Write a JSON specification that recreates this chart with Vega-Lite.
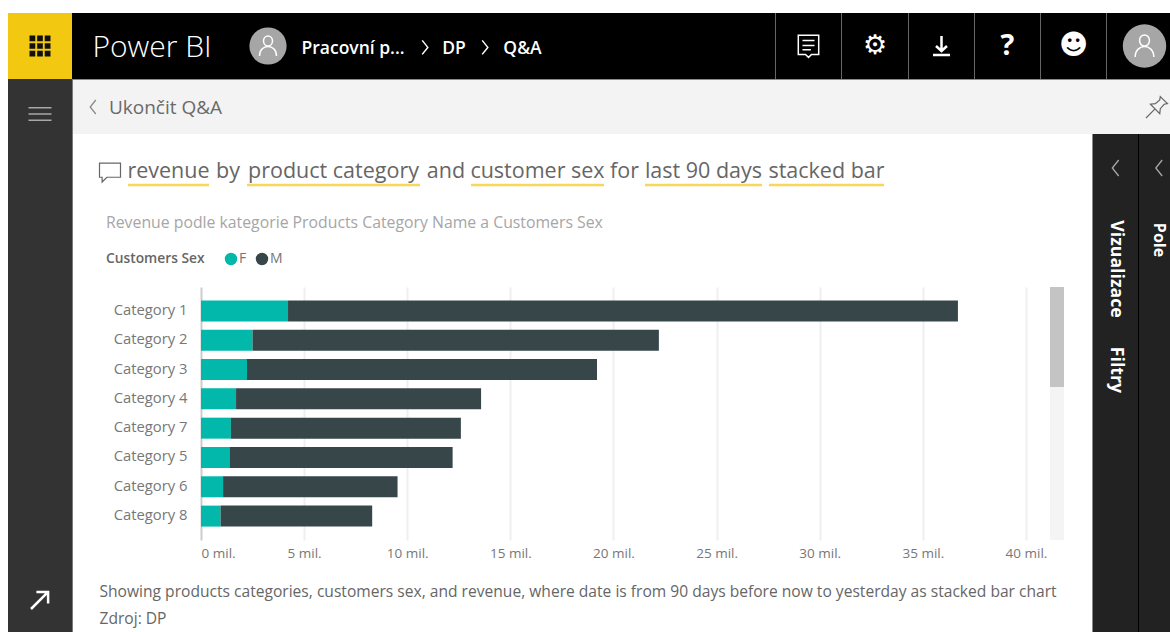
{
"$schema":"https://vega.github.io/schema/vega-lite/v6.json",
"padding":{"left":8,"top":13,"right":0,"bottom":0},
"background":"#ffffff",
"config":{"font":"Open Sans","concat":{"spacing":0},"view":{"stroke":null}},
"data":{"name":"chrome","values":[{"part":"app frame"}]},
"vconcat":[
{"bounds":"flush","hconcat":[
 {"width":64,"height":66,"view":{"fill":"#f2c811"},"mark":{"type":"point","filled":true,"opacity":1,"color":"#111111","size":441,"shape":"M-1,-1H-0.45V-0.45H-1ZM-0.27,-1H0.27V-0.45H-0.27ZM0.45,-1H1V-0.45H0.45ZM-1,-0.27H-0.45V0.27H-1ZM-0.27,-0.27H0.27V0.27H-0.27ZM0.45,-0.27H1V0.27H0.45ZM-1,0.45H-0.45V1H-1ZM-0.27,0.45H0.27V1H-0.27ZM0.45,0.45H1V1H0.45Z"},"encoding":{}},
 {"width":160,"height":66,"view":{"fill":"#000000"},"mark":{"type":"text","text":"Power BI","color":"#ffffff","fontSize":30,"fontWeight":300,"dy":2},"encoding":{}},
 {"width":8,"height":66,"view":{"fill":"#000000"},"mark":{"type":"rect","color":"#000000"},"encoding":{}},
 {"width":56,"height":66,"view":{"fill":"#000000"},"layer":[
  {"mark":{"type":"point","filled":true,"opacity":1,"color":"#a6a6a6","shape":"circle","size":1385},"encoding":{}},
  {"mark":{"type":"point","filled":false,"opacity":1,"color":"#ffffff","strokeWidth":1.5,"size":400,"shape":"M0.45,-0.5A0.45,0.5 0 1 1 -0.45,-0.5A0.45,0.5 0 1 1 0.45,-0.5ZM-0.85,1C-0.85,0.35 -0.4,0.05 0,0.05C0.4,0.05 0.85,0.35 0.85,1"},"encoding":{}}
 ]},
 {"width":4,"height":66,"view":{"fill":"#000000"},"mark":{"type":"rect","color":"#000000"},"encoding":{}},
 {"width":106,"height":66,"view":{"fill":"#000000"},"mark":{"type":"text","text":"Pracovní p...","color":"#ffffff","fontSize":17.5,"fontWeight":600,"dy":3},"encoding":{}},
 {"width":2,"height":66,"view":{"fill":"#000000"},"mark":{"type":"rect","color":"#000000"},"encoding":{}},
 {"width":34,"height":66,"view":{"fill":"#000000"},"mark":{"type":"point","filled":false,"opacity":1,"color":"#ffffff","strokeWidth":1.5,"size":196,"shape":"M-0.4,-0.8L0.4,0.2L-0.4,1.2"},"encoding":{}},
 {"width":24,"height":66,"view":{"fill":"#000000"},"mark":{"type":"text","text":"DP","color":"#ffffff","fontSize":17.5,"fontWeight":600,"dy":3},"encoding":{}},
 {"width":10,"height":66,"view":{"fill":"#000000"},"mark":{"type":"rect","color":"#000000"},"encoding":{}},
 {"width":18,"height":66,"view":{"fill":"#000000"},"mark":{"type":"point","filled":false,"opacity":1,"color":"#ffffff","strokeWidth":1.5,"size":196,"shape":"M-0.4,-0.8L0.4,0.2L-0.4,1.2"},"encoding":{}},
 {"width":6,"height":66,"view":{"fill":"#000000"},"mark":{"type":"rect","color":"#000000"},"encoding":{}},
 {"width":45,"height":66,"view":{"fill":"#000000"},"mark":{"type":"text","text":"Q&A","color":"#ffffff","fontSize":17.5,"fontWeight":600,"dy":3},"encoding":{}},
 {"width":230,"height":66,"view":{"fill":"#000000"},"mark":{"type":"rect","color":"#000000"},"encoding":{}},
 {"width":1,"height":66,"view":{"fill":"#666666"},"mark":{"type":"rect","color":"#666666"},"encoding":{}},
 {"width":65,"height":66,"view":{"fill":"#000000"},"mark":{"type":"point","filled":false,"opacity":1,"color":"#ffffff","strokeWidth":1.5,"size":576,"shape":"M-0.85,-0.9H0.85V0.7H0.25L0,0.95L-0.25,0.7H-0.85ZM-0.5,-0.45H0.5M-0.5,-0.05H0.5M-0.5,0.32H0.2"},"encoding":{}},
 {"width":1,"height":66,"view":{"fill":"#666666"},"mark":{"type":"rect","color":"#666666"},"encoding":{}},
 {"width":66,"height":66,"view":{"fill":"#000000"},"mark":{"type":"text","text":"⚙","font":"DejaVu Sans","color":"#ffffff","fontSize":27,"fontWeight":"bold"},"encoding":{}},
 {"width":1,"height":66,"view":{"fill":"#666666"},"mark":{"type":"rect","color":"#666666"},"encoding":{}},
 {"width":65,"height":66,"view":{"fill":"#000000"},"mark":{"type":"point","filled":false,"opacity":1,"color":"#ffffff","strokeWidth":2.5,"size":400,"shape":"M0,-1V0.45M-0.55,0L0,0.5L0.55,0M-0.85,0.9H0.85"},"encoding":{}},
 {"width":1,"height":66,"view":{"fill":"#666666"},"mark":{"type":"rect","color":"#666666"},"encoding":{}},
 {"width":65,"height":66,"view":{"fill":"#000000"},"mark":{"type":"text","text":"?","color":"#ffffff","fontSize":29,"fontWeight":"bold"},"encoding":{}},
 {"width":1,"height":66,"view":{"fill":"#666666"},"mark":{"type":"rect","color":"#666666"},"encoding":{}},
 {"width":65,"height":66,"view":{"fill":"#000000"},"mark":{"type":"text","text":"☻","font":"DejaVu Sans","color":"#ffffff","fontSize":28},"encoding":{}},
 {"width":1,"height":66,"view":{"fill":"#666666"},"mark":{"type":"rect","color":"#666666"},"encoding":{}},
 {"width":12,"height":66,"view":{"fill":"#000000"},"mark":{"type":"rect","color":"#000000"},"encoding":{}},
 {"width":51,"height":66,"view":{"fill":"#000000"},"layer":[
  {"mark":{"type":"point","filled":true,"opacity":1,"color":"#a6a6a6","shape":"circle","size":1885},"encoding":{}},
  {"mark":{"type":"point","filled":false,"opacity":1,"color":"#ffffff","strokeWidth":1.5,"size":484,"shape":"M0.45,-0.5A0.45,0.5 0 1 1 -0.45,-0.5A0.45,0.5 0 1 1 0.45,-0.5ZM-0.85,1C-0.85,0.35 -0.4,0.05 0,0.05C0.4,0.05 0.85,0.35 0.85,1"},"encoding":{}}
 ]}
]},
{"hconcat":[
 {"width":64,"height":553,"view":{"fill":"#333333"},"layer":[
  {"mark":{"type":"point","filled":false,"opacity":1,"color":"#a8a8a8","strokeWidth":1.5,"size":529,"shape":"M-1,-0.55H1M-1,0H1M-1,0.55H1"},
   "encoding":{"y":{"datum":"menu","type":"nominal","scale":{"domain":["menu","expand"],"range":[35,521],"padding":0},"axis":null}}},
  {"mark":{"type":"point","filled":false,"opacity":1,"color":"#ffffff","strokeWidth":2.5,"size":324,"shape":"M-1,1L0.9,-0.9M-0.4,-0.9H0.9V0.4"},
   "encoding":{"y":{"datum":"expand","type":"nominal","scale":{"domain":["menu","expand"],"range":[35,521],"padding":0},"axis":null}}}
 ]},
 {"width":1,"height":553,"view":{"fill":"#7a7a7a"},"mark":{"type":"rect","color":"#7a7a7a"},"encoding":{}},
 {"vconcat":[
  {"width":1097,"height":1,"view":{"fill":"#8a8a8a"},"mark":{"type":"rect","color":"#8a8a8a"},"encoding":{}},
  {"bounds":"flush","hconcat":[
   {"width":10,"height":54,"view":{"fill":"#f3f3f3"},"mark":{"type":"rect","color":"#f3f3f3"},"encoding":{}},
   {"width":20,"height":54,"view":{"fill":"#f3f3f3"},"mark":{"type":"point","filled":false,"opacity":1,"color":"#8a8a8a","strokeWidth":1.3,"size":196,"shape":"M0.4,-1L-0.4,0L0.4,1"},"encoding":{}},
   {"width":125,"height":54,"view":{"fill":"#f3f3f3"},"mark":{"type":"text","text":"Ukončit Q&A","color":"#6a6a6a","fontSize":19,"dy":1},"encoding":{}},
   {"width":916,"height":54,"view":{"fill":"#f3f3f3"},"mark":{"type":"rect","color":"#f3f3f3"},"encoding":{}},
   {"width":26,"height":54,"view":{"fill":"#f3f3f3"},"mark":{"type":"point","filled":false,"opacity":1,"color":"#666666","strokeWidth":1.2,"size":484,"shape":"M0.3,-0.95L0.95,-0.3L0.65,-0.25L0.3,0.15L0.25,0.6L-0.6,-0.25L-0.15,-0.3L0.25,-0.65ZM-0.2,0.2L-1,1"},"encoding":{}}
  ]},
  {"hconcat":[
   {"vconcat":[
    {"bounds":"flush","hconcat":[
     {"width":74,"height":81,"mark":{"type":"point","filled":false,"opacity":1,"color":"#666666","strokeWidth":1.2,"size":441,"shape":"M-1,-0.85H1V0.5H-0.3L-0.75,0.95V0.5H-1Z"},
      "encoding":{"y":{"datum":"text","type":"nominal","scale":{"type":"point","domain":["text","underline"],"range":[38,51],"padding":0},"axis":null}}},
     {"width":43,"height":81,"layer":[
      {"mark":{"type":"text","text":"revenue","color":"#666666","fontSize":21.5},"encoding":{"y":{"datum":"text","type":"nominal","scale":{"type":"point","domain":["text","underline"],"range":[38,51],"padding":0},"axis":null}}},
      {"mark":{"type":"tick","orient":"horizontal","color":"#f2c811","thickness":2.5,"size":81},"encoding":{"y":{"datum":"underline","type":"nominal","scale":{"type":"point","domain":["text","underline"],"range":[38,51],"padding":0},"axis":null}}}
     ]},
     {"width":76,"height":81,"mark":{"type":"text","text":"by","color":"#666666","fontSize":21.5},"encoding":{"y":{"datum":"text","type":"nominal","scale":{"type":"point","domain":["text","underline"],"range":[38,51],"padding":0},"axis":null}}},
     {"width":135,"height":81,"layer":[
      {"mark":{"type":"text","text":"product category","color":"#666666","fontSize":21.5},"encoding":{"y":{"datum":"text","type":"nominal","scale":{"type":"point","domain":["text","underline"],"range":[38,51],"padding":0},"axis":null}}},
      {"mark":{"type":"tick","orient":"horizontal","color":"#f2c811","thickness":2.5,"size":173},"encoding":{"y":{"datum":"underline","type":"nominal","scale":{"type":"point","domain":["text","underline"],"range":[38,51],"padding":0},"axis":null}}}
     ]},
     {"width":90,"height":81,"mark":{"type":"text","text":"and","color":"#666666","fontSize":21.5},"encoding":{"y":{"datum":"text","type":"nominal","scale":{"type":"point","domain":["text","underline"],"range":[38,51],"padding":0},"axis":null}}},
     {"width":93,"height":81,"layer":[
      {"mark":{"type":"text","text":"customer sex","color":"#666666","fontSize":21.5},"encoding":{"y":{"datum":"text","type":"nominal","scale":{"type":"point","domain":["text","underline"],"range":[38,51],"padding":0},"axis":null}}},
      {"mark":{"type":"tick","orient":"horizontal","color":"#f2c811","thickness":2.5,"size":133},"encoding":{"y":{"datum":"underline","type":"nominal","scale":{"type":"point","domain":["text","underline"],"range":[38,51],"padding":0},"axis":null}}}
     ]},
     {"width":81,"height":81,"mark":{"type":"text","text":"for","color":"#666666","fontSize":21.5},"encoding":{"y":{"datum":"text","type":"nominal","scale":{"type":"point","domain":["text","underline"],"range":[38,51],"padding":0},"axis":null}}},
     {"width":77,"height":81,"layer":[
      {"mark":{"type":"text","text":"last 90 days","color":"#666666","fontSize":21.5},"encoding":{"y":{"datum":"text","type":"nominal","scale":{"type":"point","domain":["text","underline"],"range":[38,51],"padding":0},"axis":null}}},
      {"mark":{"type":"tick","orient":"horizontal","color":"#f2c811","thickness":2.5,"size":117},"encoding":{"y":{"datum":"underline","type":"nominal","scale":{"type":"point","domain":["text","underline"],"range":[38,51],"padding":0},"axis":null}}}
     ]},
     {"width":169,"height":81,"layer":[
      {"mark":{"type":"text","text":"stacked bar","color":"#666666","fontSize":21.5},"encoding":{"y":{"datum":"text","type":"nominal","scale":{"type":"point","domain":["text","underline"],"range":[38,51],"padding":0},"axis":null}}},
      {"mark":{"type":"tick","orient":"horizontal","color":"#f2c811","thickness":2.5,"size":115},"encoding":{"y":{"datum":"underline","type":"nominal","scale":{"type":"point","domain":["text","underline"],"range":[38,51],"padding":0},"axis":null}}}
     ]},
     {"width":181,"height":81,"mark":{"type":"rect","color":"#ffffff"},"encoding":{}}
    ]},
    {"bounds":"flush","hconcat":[
     {"width":977,"height":253,
      "title":{"text":"Revenue podle kategorie Products Category Name a Customers Sex","anchor":"start","frame":"group","dx":33,"offset":55,"fontSize":15.8,"fontWeight":"normal","color":"#a6a6a6"},
      "data":{"values":[
       {"category":"Category 1","sex":"F","revenue":4220000},{"category":"Category 1","sex":"M","revenue":32480000},
       {"category":"Category 2","sex":"F","revenue":2500000},{"category":"Category 2","sex":"M","revenue":19700000},
       {"category":"Category 3","sex":"F","revenue":2230000},{"category":"Category 3","sex":"M","revenue":16970000},
       {"category":"Category 4","sex":"F","revenue":1700000},{"category":"Category 4","sex":"M","revenue":11880000},
       {"category":"Category 7","sex":"F","revenue":1450000},{"category":"Category 7","sex":"M","revenue":11150000},
       {"category":"Category 5","sex":"F","revenue":1380000},{"category":"Category 5","sex":"M","revenue":10820000},
       {"category":"Category 6","sex":"F","revenue":1070000},{"category":"Category 6","sex":"M","revenue":8460000},
       {"category":"Category 8","sex":"F","revenue":950000},{"category":"Category 8","sex":"M","revenue":7350000}
      ]},
      "mark":{"type":"bar","size":21},
      "encoding":{
       "y":{"field":"category","type":"nominal","sort":null,
        "scale":{"domain":["Category 1","Category 2","Category 3","Category 4","Category 7","Category 5","Category 6","Category 8"],"paddingInner":0.28,"paddingOuter":0.455},
        "axis":{"title":null,"domain":false,"ticks":false,"grid":false,"offset":-128,"labelPadding":14,"labelFontSize":14.8,"labelColor":"#777777"}},
       "x":{"field":"revenue","type":"quantitative","stack":"zero",
        "scale":{"domain":[0,41164000],"range":[128,977],"nice":false},
        "axis":{"values":[0,5000000,10000000,15000000,20000000,25000000,30000000,35000000,40000000],"labelExpr":"(datum.value/1000000)+' mil.'","domain":false,"ticks":false,"grid":true,"gridWidth":2,"gridColor":{"condition":{"test":"datum.value===0","value":"#cccccc"},"value":"#efefef"},"labelPadding":6,"labelFontSize":13.5,"labelColor":"#777777",
         "title":["Showing products categories, customers sex, and revenue, where date is from 90 days before now to yesterday as stacked bar chart","Zdroj: DP"],
         "titleAlign":"left","titleAnchor":"start","titleX":26,"titleY":51,"titleBaseline":"middle","titleFontSize":15.6,"titleFontWeight":"normal","titleColor":"#666666","titleLineHeight":27}},
       "color":{"field":"sex","type":"nominal","scale":{"domain":["F","M"],"range":["#01b8aa","#374649"]},
        "legend":{"orient":"none","legendX":98,"legendY":239,"direction":"horizontal","titleOrient":"left","title":"Customers Sex","symbolType":"circle","symbolSize":154,"symbolOpacity":1,"titleFontSize":13.8,"titleFontWeight":600,"titleColor":"#666666","titlePadding":19,"labelFontSize":14,"labelColor":"#777777","labelOffset":1,"columnPadding":8}},
       "order":{"field":"sex","sort":"ascending"}
      }},
     {"width":14,"height":253,"view":{"fill":"#f4f4f4"},
      "data":{"values":[{"first":0,"last":8}]},
      "mark":{"type":"rect","color":"#c4c4c4"},
      "encoding":{"y":{"field":"first","type":"quantitative","scale":{"domain":[0,20.24],"reverse":true},"axis":null},"y2":{"field":"last"}}}
    ]}
   ]},
   {"width":1,"height":498,"view":{"fill":"#8a8a8a"},"mark":{"type":"rect","color":"#8a8a8a"},"encoding":{}},
   {"width":45,"height":498,"view":{"fill":"#222222"},"layer":[
    {"mark":{"type":"point","filled":false,"opacity":1,"color":"#a8a8a8","strokeWidth":1.3,"size":256,"shape":"M0.4,-1L-0.4,0L0.4,1"},"encoding":{"y":{"datum":"collapse","type":"nominal","scale":{"domain":["collapse","Vizualizace","Filtry"],"range":[34,236],"padding":0},"axis":null}}},
    {"mark":{"type":"text","text":"Vizualizace","angle":90,"color":"#ffffff","fontSize":17.7,"fontWeight":"bold"},"encoding":{"y":{"datum":"Vizualizace","type":"nominal","scale":{"domain":["collapse","Vizualizace","Filtry"],"range":[34,236],"padding":0},"axis":null}}},
    {"mark":{"type":"text","text":"Filtry","angle":90,"color":"#ffffff","fontSize":17.7,"fontWeight":"bold"},"encoding":{"y":{"datum":"Filtry","type":"nominal","scale":{"domain":["collapse","Vizualizace","Filtry"],"range":[34,236],"padding":0},"axis":null}}}
   ]},
   {"width":1,"height":498,"view":{"fill":"#000000"},"mark":{"type":"rect","color":"#000000"},"encoding":{}},
   {"width":31,"height":498,"view":{"fill":"#222222"},"layer":[
    {"mark":{"type":"point","filled":false,"opacity":1,"color":"#a8a8a8","strokeWidth":1.3,"size":256,"shape":"M0.4,-1L-0.4,0L0.4,1"},"encoding":{"y":{"datum":"collapse","type":"nominal","scale":{"domain":["collapse","Pole"],"range":[34,106],"padding":0},"axis":null},"x":{"datum":"tab","type":"nominal","scale":{"domain":["edge","tab"],"range":[0,20],"padding":0},"axis":null}}},
    {"mark":{"type":"text","text":"Pole","angle":90,"color":"#ffffff","fontSize":16,"fontWeight":"bold"},"encoding":{"y":{"datum":"Pole","type":"nominal","scale":{"domain":["collapse","Pole"],"range":[34,106],"padding":0},"axis":null},"x":{"datum":"tab","type":"nominal","scale":{"domain":["edge","tab"],"range":[0,20],"padding":0},"axis":null}}}
   ]}
  ]}
 ]}
]}
]}
